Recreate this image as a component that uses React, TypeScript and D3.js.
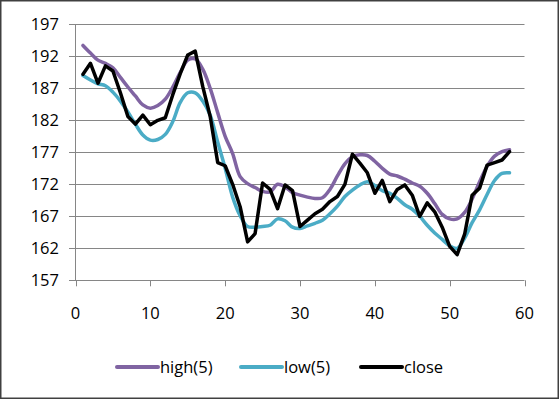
import { useMemo } from "react";
import * as d3 from "d3";

const DAYS = d3.range(1, 59);

const HIGH5 = [
  193.7, 192.5, 191.4, 190.9, 190.2, 188.7, 187.2, 185.8, 184.4, 183.9,
  184.3, 185.3, 187.2, 189.5, 191.4, 191.6, 190.0, 187.0, 183.2, 179.5,
  176.8, 173.2, 172.1, 171.5, 170.9, 170.8, 172.0, 171.6, 170.7, 170.3,
  170.0, 169.8, 169.9, 171.2, 173.3, 175.2, 176.3, 176.6, 176.5, 175.6,
  174.5, 173.6, 173.3, 172.8, 172.2, 171.7, 170.6, 169.0, 167.3, 166.6,
  166.6, 167.6, 169.7, 172.4, 174.8, 176.4, 177.1, 177.4,
];

const LOW5 = [
  189.0, 188.3, 187.7, 187.4, 186.4, 185.0, 183.3, 181.4, 179.7, 178.9,
  179.0, 179.8, 181.8, 184.8, 186.3, 186.3, 185.0, 182.8, 178.6, 174.5,
  170.0, 167.1, 165.4, 165.3, 165.4, 165.6, 166.6, 166.3, 165.3, 165.1,
  165.5, 165.9, 166.4, 167.4, 168.6, 170.1, 171.1, 171.9, 172.4, 171.8,
  171.0, 170.6, 169.8, 168.8, 168.1, 167.0, 165.6, 164.4, 163.4, 162.4,
  162.0, 163.6, 166.0, 168.0, 170.4, 172.6, 173.7, 173.8,
];

const CLOSE = [
  189.2, 190.9, 187.8, 190.5, 189.7, 186.3, 182.6, 181.4, 182.8, 181.3,
  182.0, 182.4, 186.0, 189.3, 192.2, 192.8, 187.3, 182.6, 175.4, 174.9,
  172.0, 168.5, 163.0, 164.3, 172.2, 171.2, 168.2, 171.9, 171.0, 165.4,
  166.4, 167.4, 168.1, 169.3, 170.1, 172.0, 176.7, 175.3, 173.8, 170.6,
  172.6, 169.3, 171.2, 171.9, 170.3, 167.0, 169.1, 167.7, 165.3, 162.3,
  161.0, 164.2, 170.3, 171.4, 175.0, 175.4, 175.8, 177.1,
];

const Y_TICKS = [157, 162, 167, 172, 177, 182, 187, 192, 197];
const X_TICKS = [0, 10, 20, 30, 40, 50, 60];

const SERIES = [
  { name: "high(5)", values: HIGH5, color: "#8064A2", smooth: true },
  { name: "low(5)", values: LOW5, color: "#4BACC6", smooth: true },
  { name: "close", values: CLOSE, color: "#000000", smooth: false },
];

const W = 559;
const H = 399;
const FONT = "'Open Sans', Lato, sans-serif";
const FS = 16.5;

export default function App() {
  const x = useMemo(() => d3.scaleLinear().domain([0, 60]).range([75.5, 524.5]), []);
  const y = useMemo(() => d3.scaleLinear().domain([157, 197]).range([280.3, 24.3]), []);

  const paths = SERIES.map((s) => {
    const line = d3
      .line<number>()
      .x((_, i) => x(DAYS[i]))
      .y((d) => y(d))
      .curve(s.smooth ? d3.curveCatmullRom.alpha(0.5) : d3.curveLinear);
    return { ...s, d: line(s.values) ?? "" };
  });

  const legendX = [117, 241, 361];

  return (
    <svg
      width={W}
      height={H}
      style={{ position: "absolute", left: 0, top: 0, background: "#fff" }}
      fontFamily={FONT}
    >
      <rect x={0.75} y={0.75} width={W - 1.5} height={H - 1.5} fill="#fff" stroke="#404040" strokeWidth={1.5} />

      {/* grid + y labels */}
      {Y_TICKS.map((t) => (
        <g key={t}>
          <line x1={69} x2={x(60)} y1={Math.round(y(t)) + 0.5} y2={Math.round(y(t)) + 0.5} stroke="#868686" strokeWidth={1} />
          <text x={59} y={y(t)} dy="0.36em" textAnchor="end" fontSize={FS} fill="#000">
            {t}
          </text>
        </g>
      ))}

      {/* axes */}
      <line x1={x(0)} x2={x(0)} y1={y(197)} y2={y(157)} stroke="#868686" strokeWidth={1} />
      {X_TICKS.map((t) => (
        <g key={t}>
          <line x1={Math.round(x(t)) + 0.5} x2={Math.round(x(t)) + 0.5} y1={y(157)} y2={y(157) + 6} stroke="#868686" strokeWidth={1} />
          <text x={x(t)} y={313} dy="0.36em" textAnchor="middle" fontSize={FS} fill="#000">
            {t}
          </text>
        </g>
      ))}

      {/* series */}
      {paths.map((p) => (
        <path
          key={p.name}
          d={p.d}
          fill="none"
          stroke={p.color}
          strokeWidth={3.5}
          strokeLinejoin="round"
          strokeLinecap="round"
        />
      ))}

      {/* legend */}
      {SERIES.map((s, i) => (
        <g key={s.name} transform={`translate(${legendX[i]},367)`}>
          <line x1={0} x2={41} y1={0} y2={0} stroke={s.color} strokeWidth={4} strokeLinecap="round" />
          <text x={43} y={0} dy="0.36em" fontSize={FS} fill="#000">
            {s.name}
          </text>
        </g>
      ))}
    </svg>
  );
}
